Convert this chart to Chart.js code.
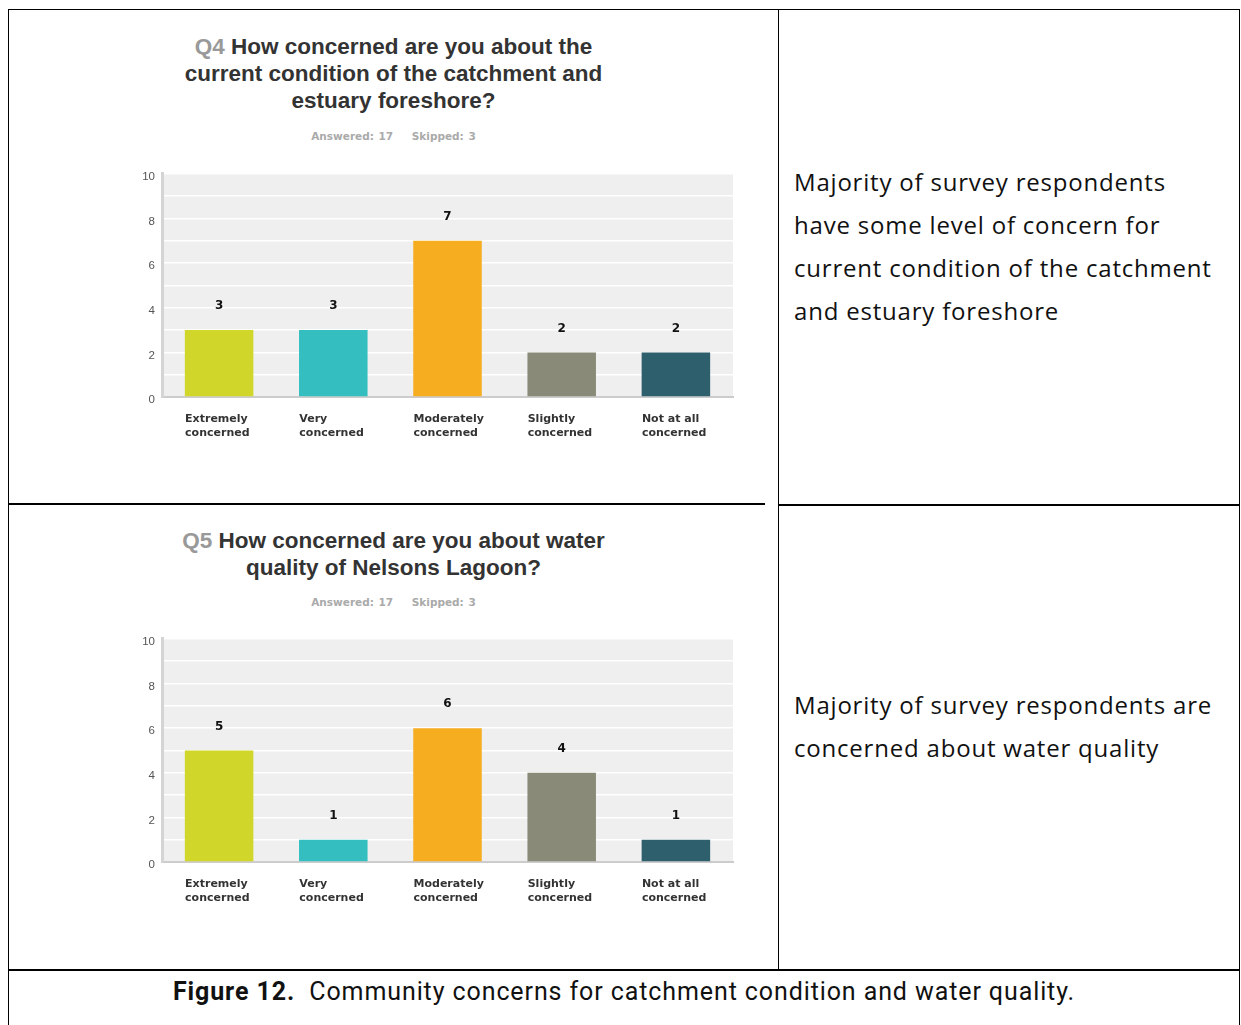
<!DOCTYPE html>
<html lang="en">
  <head>
    <meta charset="UTF-8" />
    <title>Figure 12 - Community concerns</title>
    <script src="https://cdn.jsdelivr.net/npm/chart.js@4"></script>
    <style>
      body { margin: 0; background: #fff; width: 1241px; height: 1025px; position: relative; overflow: hidden; }
      .line { position: absolute; background: #000; }
      .title { position: absolute; left: 8px; width: 771px; text-align: center; font-family: "Liberation Sans", Arial, sans-serif; font-weight: bold; font-size: 22.5px; line-height: 27px; color: #333; }
      .title .q { color: #999; }
      .meta { position: absolute; left: 8px; width: 771px; text-align: center; font-family: "DejaVu Sans", sans-serif; font-weight: bold; font-size: 10.5px; color: #aaa; word-spacing: 1px; }
      .note { position: absolute; left: 794px; width: 445px; font-family: "Open Sans", sans-serif; font-size: 24px; letter-spacing: 0.8px; line-height: 43px; color: #111; white-space: nowrap; }
      .caption { position: absolute; left: 8px; width: 1232px; top: 977px; text-align: center; font-family: "Roboto", sans-serif; font-size: 25px; letter-spacing: 0.9px; color: #111; }
      .chart { position: absolute; left: 120px; width: 630px; height: 290px; }
    </style>
  </head>
  <body>
    <!-- table lines -->
    <div class="line" style="left:8px;top:9px;width:1232px;height:1px"></div>
    <div class="line" style="left:8px;top:9px;width:1px;height:1016px"></div>
    <div class="line" style="left:1239px;top:9px;width:1px;height:1016px"></div>
    <div class="line" style="left:778px;top:9px;width:1px;height:961px"></div>
    <div class="line" style="left:8px;top:503px;width:757px;height:2px"></div>
    <div class="line" style="left:778px;top:504px;width:462px;height:2px"></div>
    <div class="line" style="left:8px;top:969px;width:1232px;height:2px"></div>

    <!-- Q4 -->
    <div class="title" style="top:33px"><span class="q">Q4</span> How concerned are you about the<br />current condition of the catchment and<br />estuary foreshore?</div>
    <div class="meta" style="top:130px">Answered: 17&nbsp;&nbsp;&nbsp; Skipped: 3</div>
    <div class="chart" style="top:160px"><canvas id="chartQ4"></canvas></div>
    <div class="note" style="top:160px">Majority of survey respondents<br />have some level of concern for<br />current condition of the catchment<br />and estuary foreshore</div>

    <!-- Q5 -->
    <div class="title" style="top:527px"><span class="q">Q5</span> How concerned are you about water<br />quality of Nelsons Lagoon?</div>
    <div class="meta" style="top:596px">Answered: 17&nbsp;&nbsp;&nbsp; Skipped: 3</div>
    <div class="chart" style="top:625px"><canvas id="chartQ5"></canvas></div>
    <div class="note" style="top:683px">Majority of survey respondents are<br />concerned about water quality</div>

    <div class="caption"><b>Figure 12.</b>&nbsp; Community concerns for catchment condition and water quality.</div>

    <script>
      const categories = [
        ["Extremely", "concerned"],
        ["Very", "concerned"],
        ["Moderately", "concerned"],
        ["Slightly", "concerned"],
        ["Not at all", "concerned"],
      ];
      const q4Values = [3, 3, 7, 2, 2];
      const q5Values = [5, 1, 6, 4, 1];
      const barColors = ["#d1d62a", "#34bec0", "#f6ae20", "#8a8a78", "#2e5f6d"];
      const yMax = 10;

      // gray plot background
      const plotBg = {
        id: "plotBg",
        beforeDraw(chart) {
          const a = chart.chartArea;
          const ctx = chart.ctx;
          ctx.save();
          ctx.fillStyle = "#efefef";
          ctx.fillRect(a.left, a.top, a.right - a.left, a.bottom - a.top);
          ctx.restore();
        },
      };

      // value labels above bars
      const valueLabels = {
        id: "valueLabels",
        afterDatasetsDraw(chart) {
          const ctx = chart.ctx;
          const meta = chart.getDatasetMeta(0);
          ctx.save();
          ctx.font = "bold 12px 'DejaVu Sans', sans-serif";
          ctx.fillStyle = "#111";
          ctx.textAlign = "center";
          ctx.textBaseline = "middle";
          meta.data.forEach((bar, i) => {
            ctx.fillText(chart.data.datasets[0].data[i], bar.x, bar.y - 24);
          });
          ctx.restore();
        },
      };

      function makeChart(id, values) {
        return new Chart(document.getElementById(id), {
          type: "bar",
          data: {
            labels: categories,
            datasets: [
              {
                data: values,
                backgroundColor: barColors,
                barPercentage: 0.6,
                categoryPercentage: 1,
              },
            ],
          },
          options: {
            responsive: true,
            maintainAspectRatio: false,
            animation: false,
            layout: { padding: { top: 9, right: 17, left: 0, bottom: 0 } },
            plugins: { legend: { display: false }, tooltip: { enabled: false } },
            scales: {
              x: {
                afterFit(scale) { scale.height = 53; },
                grid: { display: false },
                border: { display: true, color: "#cccccc", width: 2 },
                ticks: {
                  align: "start",
                  labelOffset: -34,
                  padding: 7,
                  color: "#333",
                  font: { family: "'DejaVu Sans', sans-serif", size: 11, weight: "bold", lineHeight: 1.27 },
                },
              },
              y: {
                min: 0,
                max: yMax,
                afterFit(scale) { scale.width = 42; },
                grid: { color: "#ffffff", lineWidth: 1.5, drawTicks: false },
                border: { display: true, color: "#d4d4d4", width: 3 },
                ticks: {
                  stepSize: 1,
                  padding: 7,
                  labelOffset: 3,
                  color: "#555",
                  font: { family: "'Liberation Sans', Arial, sans-serif", size: 11.5 },
                  callback: (v) => (v % 2 === 0 ? v : ""),
                },
              },
            },
          },
          plugins: [plotBg, valueLabels],
        });
      }

      makeChart("chartQ4", q4Values);
      makeChart("chartQ5", q5Values);
    </script>
  </body>
</html>
